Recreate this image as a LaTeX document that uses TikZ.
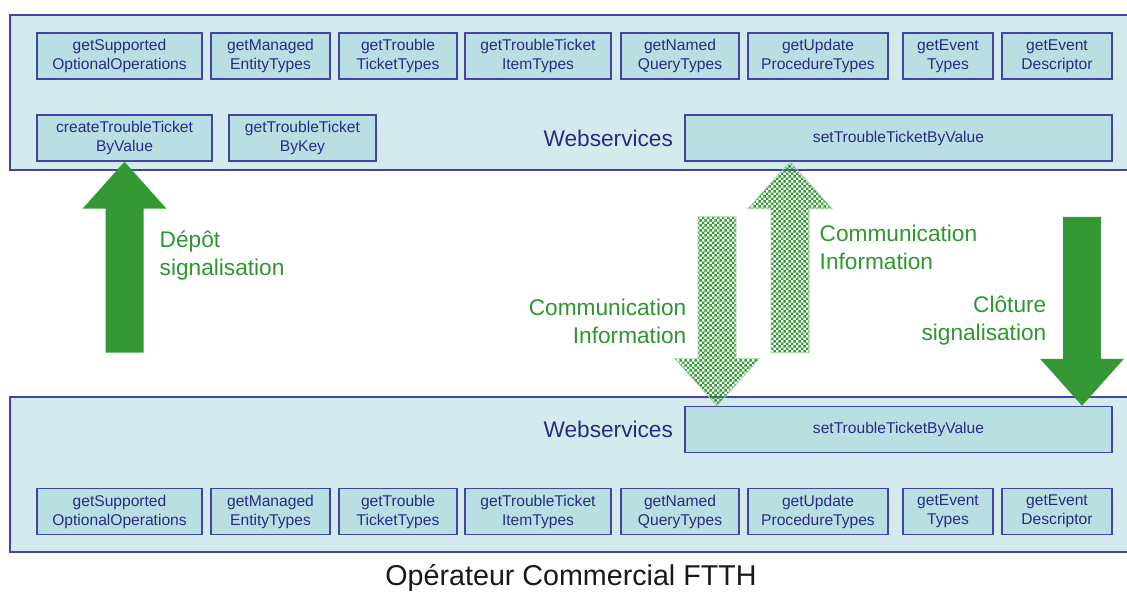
\documentclass[tikz,border=0pt]{standalone}
\usepackage{fontspec}
\setmainfont{Liberation Sans}
\usetikzlibrary{positioning, patterns, calc}

\definecolor{panelbg}{HTML}{D4EBED}
\definecolor{boxbg}{HTML}{B9DFE3}
\definecolor{boxline}{HTML}{4444A6}
\definecolor{boxtext}{HTML}{2A2A84}
\definecolor{arrowgreen}{HTML}{349934}
\definecolor{labelgreen}{HTML}{2F962F}

\pgfdeclarepatternformonly{finecheck}{\pgfpointorigin}{\pgfpoint{4pt}{4pt}}{\pgfpoint{4pt}{4pt}}{%
  \pgfpathrectangle{\pgfpointorigin}{\pgfpoint{2pt}{2pt}}%
  \pgfpathrectangle{\pgfpoint{2pt}{2pt}}{\pgfpoint{2pt}{2pt}}%
  \pgfusepath{fill}}

\begin{document}
\begin{tikzpicture}[
    x=0.75pt, y=-0.75pt,
    op/.style={rectangle, draw=boxline, line width=1.1pt, fill=boxbg, text=boxtext, align=center, inner sep=0pt, minimum height=34.5pt, font=\fontsize{11.7}{14.2}\selectfont},
    wslabel/.style={text=boxtext, font=\fontsize{17}{20}\selectfont},
    greenlabel/.style={text=labelgreen, font=\fontsize{17}{21}\selectfont},
    solidarrow/.style={fill=arrowgreen},
    checkarrow/.style={pattern=finecheck, pattern color=arrowgreen, draw=arrowgreen!45, line width=0.6pt}
]
\useasboundingbox (0,0) rectangle (1127,595);

% the two panels
\fill[panelbg] (10,15) rectangle (1130,170);
\draw[boxline, line width=1.1pt] (1130,15) -- (10,15) -- (10,170) -- (1130,170);
\fill[panelbg] (10,397) rectangle (1130,552);
\draw[boxline, line width=1.1pt] (1130,397) -- (10,397) -- (10,552) -- (1130,552);

% upper panel
\node (supA)  [op, minimum width=123.75pt] at (119.5,56) {getSupported\\OptionalOperations};
\node (entA)  [op, minimum width=89.25pt]  at (270.5,56) {getManaged\\EntityTypes};
\node (tktA)  [op, minimum width=88.5pt]   at (398,56)   {getTrouble\\TicketTypes};
\node (itemA) [op, minimum width=109.5pt]  at (538,56)   {getTroubleTicket\\ItemTypes};
\node (qryA)  [op, minimum width=88.5pt]   at (680,56)   {getNamed\\QueryTypes};
\node (procA) [op, minimum width=105pt]    at (818,56)   {getUpdate\\ProcedureTypes};
\node (evtA)  [op, minimum width=67.5pt]   at (948,56)   {getEvent\\Types};
\node (descA) [op, minimum width=82.5pt]   at (1057,56)  {getEvent\\Descriptor};

\node (create) [op, minimum width=131.25pt] at (124.5,138) {createTroubleTicket\\ByValue};
\node (bykey)  [op, minimum width=110.25pt] at (302.5,138) {getTroubleTicket\\ByKey};
\node (setA)   [op, minimum width=320.25pt] at (898.5,138) {setTroubleTicketByValue};
\node (wsA) [wslabel, left=5pt of setA] {Webservices};

% lower panel
\node (setB) [op, minimum width=320.25pt] at (898.5,429.5) {setTroubleTicketByValue};
\node (wsB) [wslabel, left=5pt of setB] {Webservices};

\node (supB)  [op, minimum width=123.75pt] at (119.5,511.5) {getSupported\\OptionalOperations};
\node (entB)  [op, minimum width=89.25pt]  at (270.5,511.5) {getManaged\\EntityTypes};
\node (tktB)  [op, minimum width=88.5pt]   at (398,511.5)   {getTrouble\\TicketTypes};
\node (itemB) [op, minimum width=109.5pt]  at (538,511.5)   {getTroubleTicket\\ItemTypes};
\node (qryB)  [op, minimum width=88.5pt]   at (680,511.5)   {getNamed\\QueryTypes};
\node (procB) [op, minimum width=105pt]    at (818,511.5)   {getUpdate\\ProcedureTypes};
\node (evtB)  [op, minimum width=67.5pt]   at (948,511.5)   {getEvent\\Types};
\node (descB) [op, minimum width=82.5pt]   at (1057,511.5)  {getEvent\\Descriptor};

\node (operateur) [font=\fontsize{21.5}{25}\selectfont, text=black!90] at (571,578) {Opérateur Commercial FTTH};

% block arrows
\fill[solidarrow] (create.south) -- ++(42,47) -- ++(-23,0) -- ++(0,144) -- ++(-38,0) -- ++(0,-144) -- ++(-23,0) -- cycle;
\filldraw[checkarrow] (setA.south) ++(-108.5,0) -- ++(42,47) -- ++(-23,0) -- ++(0,144) -- ++(-38,0) -- ++(0,-144) -- ++(-23,0) -- cycle;
\filldraw[checkarrow] (setB.north) ++(-181.5,0) -- ++(42,-47) -- ++(-23,0) -- ++(0,-142) -- ++(-38,0) -- ++(0,142) -- ++(-23,0) -- cycle;
\fill[solidarrow] (setB.north) ++(183.5,0) -- ++(42,-47) -- ++(-23,0) -- ++(0,-142) -- ++(-38,0) -- ++(0,142) -- ++(-23,0) -- cycle;

% arrow labels
\node (depot) [greenlabel, anchor=west, align=left] at (155,256) {Dépôt\\signalisation};
\node (commup) [greenlabel, anchor=west, align=left] at (815,247) {Communication\\Information};
\node (commdown) [greenlabel, anchor=east, align=right] at (691,321) {Communication\\Information};
\node (cloture) [greenlabel, anchor=east, align=right] at (1051,321) {Clôture\\signalisation};

\end{tikzpicture}
\end{document}
